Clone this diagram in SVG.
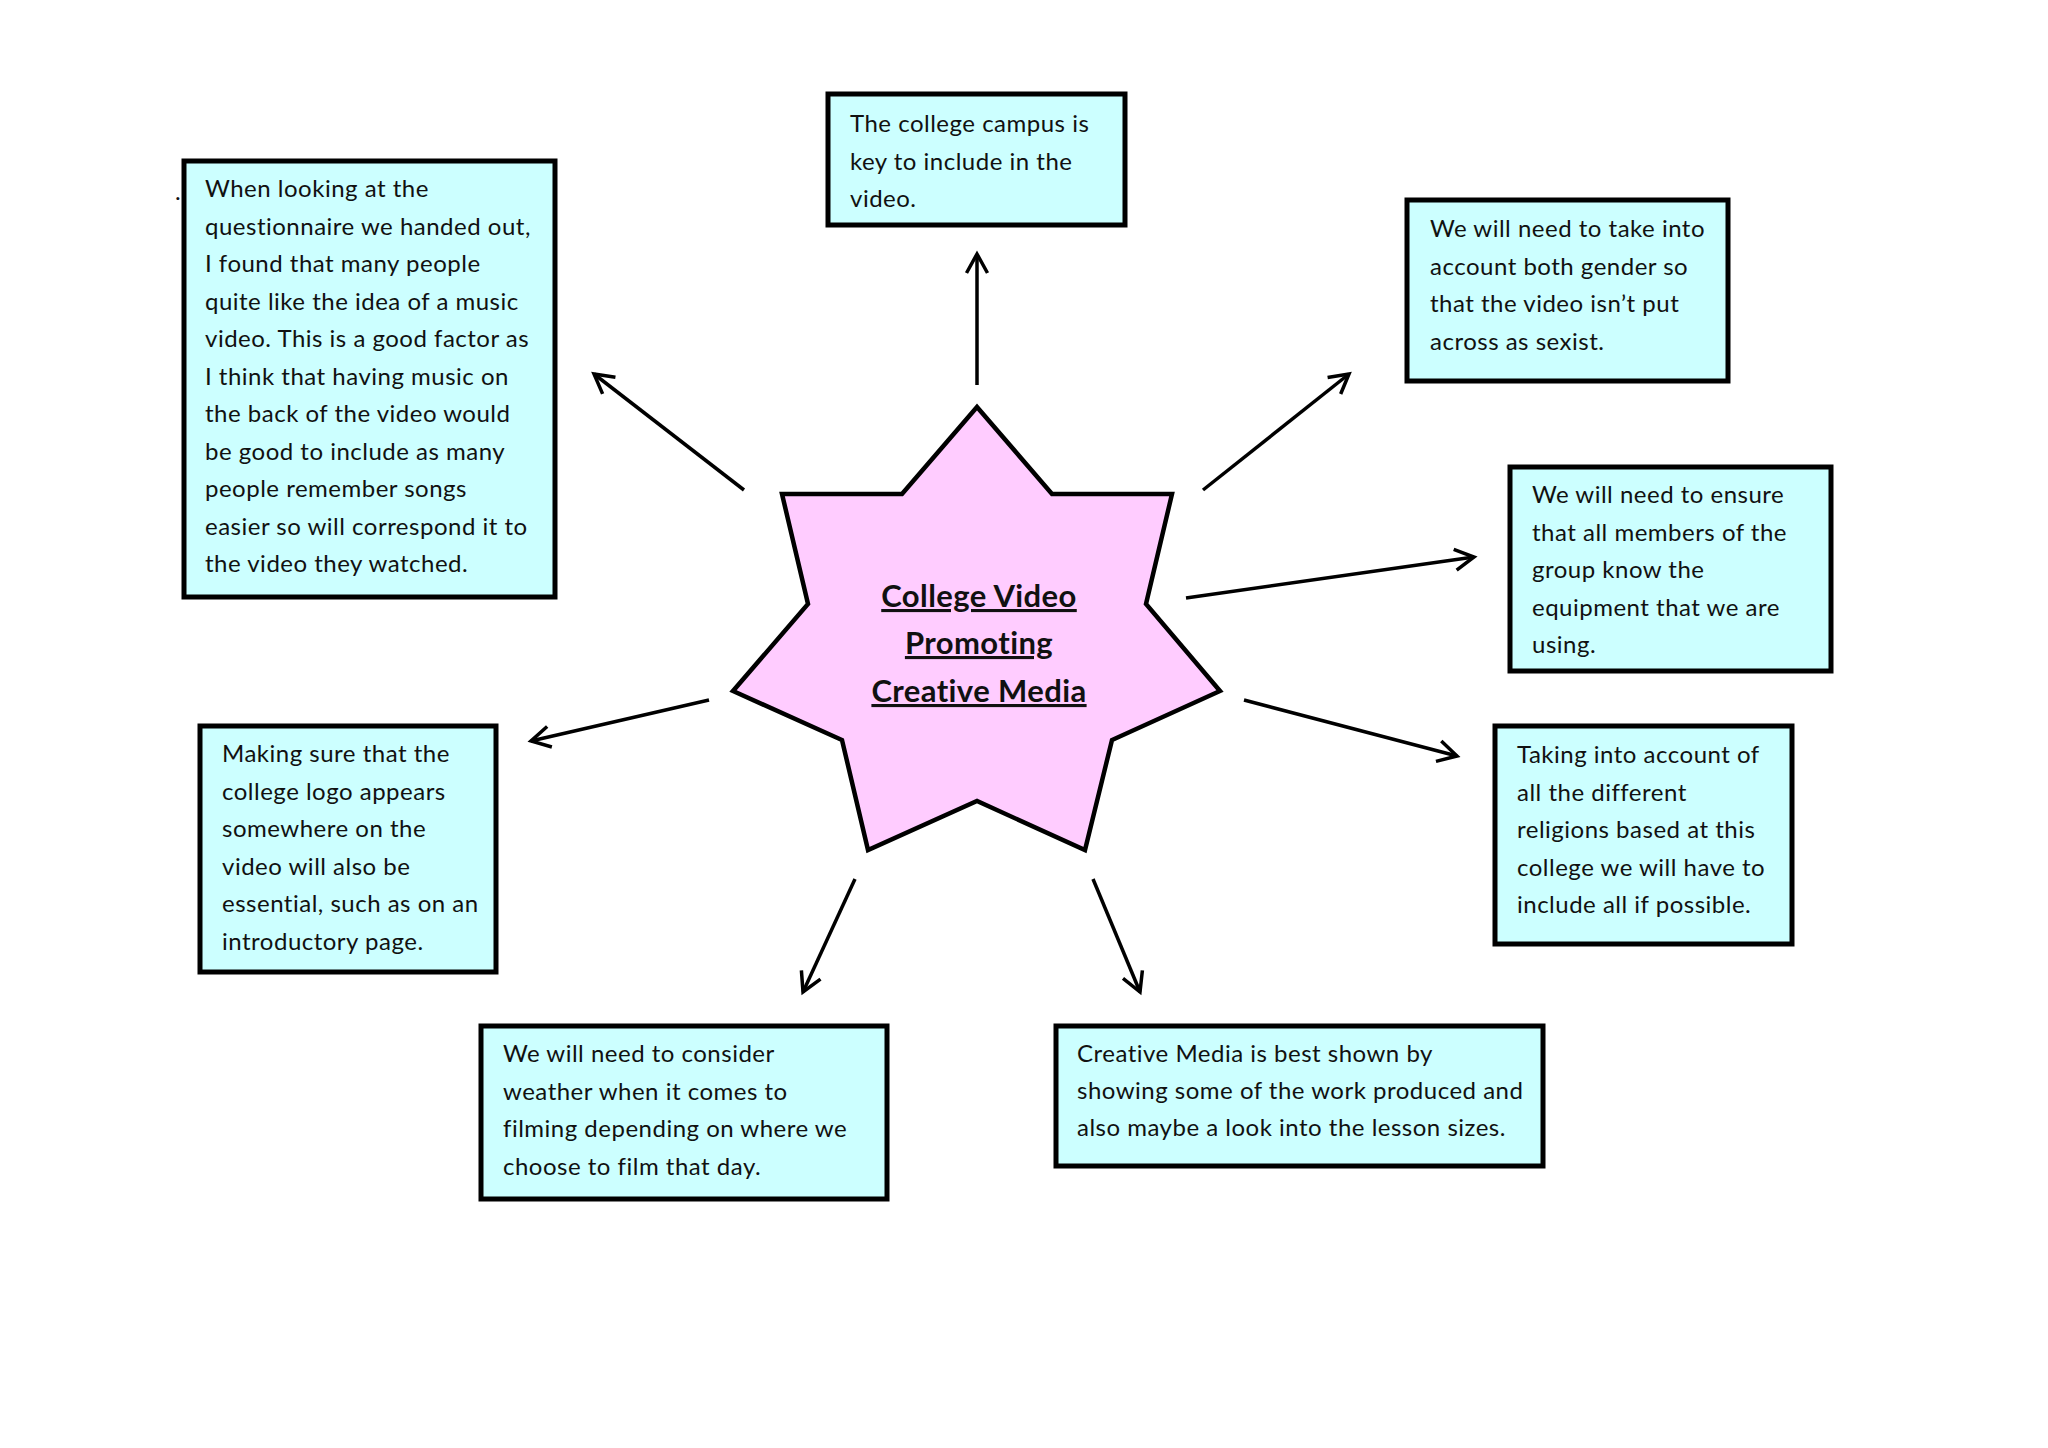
<svg xmlns="http://www.w3.org/2000/svg" width="2048" height="1448" viewBox="0 0 2048 1448">
<style>
.box{fill:#CCFFFF;stroke:#000;stroke-width:5}
.star{fill:#FFCCFF;stroke:#000;stroke-width:4.5;stroke-linejoin:miter}
.t{font-family:Lato,"Open Sans","Liberation Sans",sans-serif;font-size:24px;letter-spacing:0.5px;fill:#111}
.title{font-family:Lato,"Open Sans","Liberation Sans",sans-serif;font-size:31px;letter-spacing:0.4px;font-weight:bold;fill:#111;text-decoration:underline;text-anchor:middle}
.c{stroke:#000;stroke-width:3.5;fill:none;marker-end:url(#ah)}
</style>
<defs>
<marker id="ah" markerUnits="userSpaceOnUse" markerWidth="40" markerHeight="40" viewBox="-30 -20 40 40" refX="0" refY="0" orient="auto" overflow="visible">
<path d="M-19,-10.5 L0,0 L-19,10.5" fill="none" stroke="#000" stroke-width="3.5"/>
</marker>
</defs>
<rect width="2048" height="1448" fill="#fff"/>
<g id="connectors">
<line class="c" x1="977" y1="385" x2="977" y2="254"/>
<line class="c" x1="744" y1="490" x2="594" y2="374"/>
<line class="c" x1="1203" y1="490" x2="1349" y2="374"/>
<line class="c" x1="1186" y1="598" x2="1474" y2="557"/>
<line class="c" x1="1244" y1="700" x2="1457" y2="756"/>
<line class="c" x1="709" y1="700" x2="531" y2="741"/>
<line class="c" x1="855" y1="879" x2="803" y2="992"/>
<line class="c" x1="1093" y1="879" x2="1140" y2="992"/>
</g>
<g id="center">
<polygon class="star" points="977,407 1052,494 1172,494 1146,604 1220,691 1112,740 1085,850 977,801 868,850 842,740 733,691 808,604 782,494 902,494"/>
<text class="title"><tspan x="979" y="607">College Video</tspan><tspan x="979" y="654">Promoting</tspan><tspan x="979" y="702">Creative Media</tspan></text>
</g>
<g id="node-music">
<rect class="box" x="184" y="161" width="371" height="436"/>
<text class="t"><tspan x="205" y="197">When looking at the</tspan><tspan x="205" y="234.5">questionnaire we handed out,</tspan><tspan x="205" y="272">I found that many people</tspan><tspan x="205" y="309.5">quite like the idea of a music</tspan><tspan x="205" y="347">video. This is a good factor as</tspan><tspan x="205" y="384.5">I think that having music on</tspan><tspan x="205" y="422">the back of the video would</tspan><tspan x="205" y="459.5">be good to include as many</tspan><tspan x="205" y="497">people remember songs</tspan><tspan x="205" y="534.5">easier so will correspond it to</tspan><tspan x="205" y="572">the video they watched.</tspan></text>
</g>
<text class="t" x="175" y="200">.</text>
<g id="node-campus">
<rect class="box" x="828" y="94" width="297" height="131"/>
<text class="t"><tspan x="850" y="132">The college campus is</tspan><tspan x="850" y="169.5">key to include in the</tspan><tspan x="850" y="207">video.</tspan></text>
</g>
<g id="node-gender">
<rect class="box" x="1407" y="200" width="321" height="181"/>
<text class="t"><tspan x="1430" y="237">We will need to take into</tspan><tspan x="1430" y="274.5">account both gender so</tspan><tspan x="1430" y="312">that the video isn’t put</tspan><tspan x="1430" y="349.5">across as sexist.</tspan></text>
</g>
<g id="node-equipment">
<rect class="box" x="1510" y="467" width="321" height="204"/>
<text class="t"><tspan x="1532" y="503">We will need to ensure</tspan><tspan x="1532" y="540.5">that all members of the</tspan><tspan x="1532" y="578">group know the</tspan><tspan x="1532" y="615.5">equipment that we are</tspan><tspan x="1532" y="653">using.</tspan></text>
</g>
<g id="node-religions">
<rect class="box" x="1495" y="726" width="297" height="218"/>
<text class="t"><tspan x="1517" y="763">Taking into account of</tspan><tspan x="1517" y="800.5">all the different</tspan><tspan x="1517" y="838">religions based at this</tspan><tspan x="1517" y="875.5">college we will have to</tspan><tspan x="1517" y="913">include all if possible.</tspan></text>
</g>
<g id="node-logo">
<rect class="box" x="200" y="726" width="296" height="246"/>
<text class="t"><tspan x="222" y="762">Making sure that the</tspan><tspan x="222" y="799.6">college logo appears</tspan><tspan x="222" y="837.2">somewhere on the</tspan><tspan x="222" y="874.8">video will also be</tspan><tspan x="222" y="912.4">essential, such as on an</tspan><tspan x="222" y="950">introductory page.</tspan></text>
</g>
<g id="node-weather">
<rect class="box" x="481" y="1026" width="406" height="173"/>
<text class="t"><tspan x="503" y="1062">We will need to consider</tspan><tspan x="503" y="1099.7">weather when it comes to</tspan><tspan x="503" y="1137.3">filming depending on where we</tspan><tspan x="503" y="1175">choose to film that day.</tspan></text>
</g>
<g id="node-work">
<rect class="box" x="1056" y="1026" width="487" height="140"/>
<text class="t"><tspan x="1077" y="1062">Creative Media is best shown by</tspan><tspan x="1077" y="1099">showing some of the work produced and</tspan><tspan x="1077" y="1136">also maybe a look into the lesson sizes.</tspan></text>
</g>
</svg>
